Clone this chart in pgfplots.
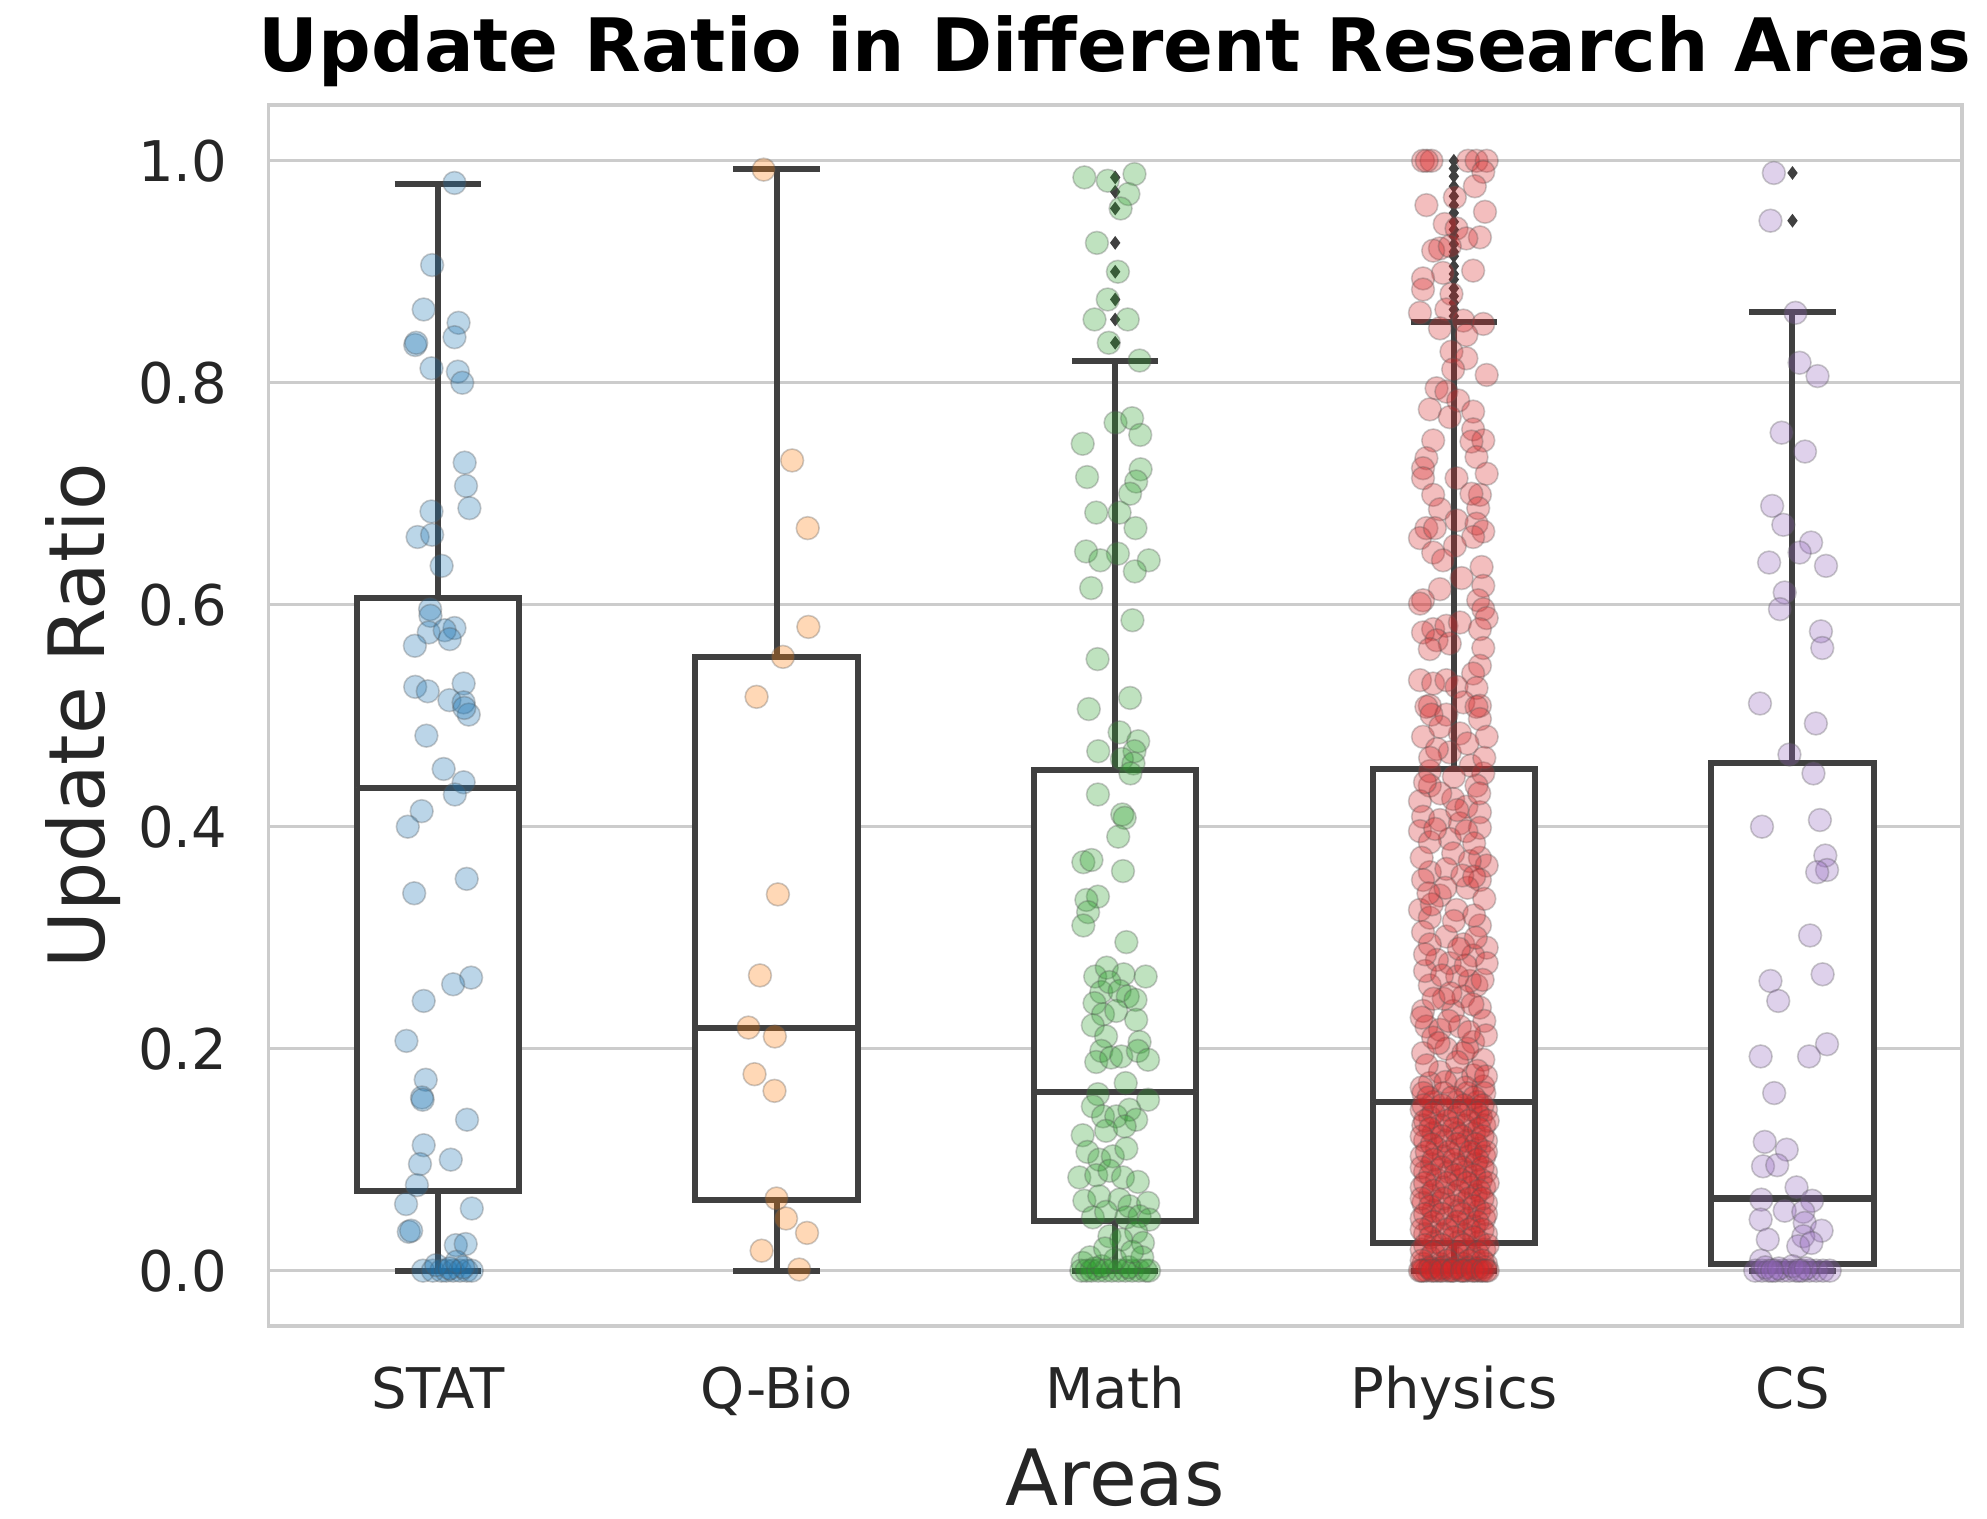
\documentclass[border=0pt]{standalone}
\usepackage{fontspec}
\setmainfont{DejaVu Sans}
\usepackage{pgfplots}
\pgfplotsset{compat=1.18}
\usepgfplotslibrary{statistics}

\definecolor{tabblue}{HTML}{1F77B4}
\definecolor{taborange}{HTML}{FF7F0E}
\definecolor{tabgreen}{HTML}{2CA02C}
\definecolor{tabred}{HTML}{D62728}
\definecolor{tabpurple}{HTML}{9467BD}
\definecolor{boxc}{HTML}{404040}
\definecolor{gridc}{HTML}{CCCCCC}
\definecolor{labelc}{HTML}{262626}
\definecolor{edgec}{HTML}{555555}

\pgfplotsset{
  pts/.style={only marks, mark=*, mark size=2.85pt,
    mark options={fill=#1, draw=edgec, fill opacity=0.3, draw opacity=0.3, line width=0.4pt}},
  bx/.style={boxplot prepared={#1, box extend=0.48, whisker extend=0.255, draw direction=y},
    draw=boxc, line width=1.5pt, fill=white, solid},
  outl/.style={only marks, mark=diamond*, mark size=1.4pt, color=boxc},
}

\begin{document}
\begin{tikzpicture}
\begin{axis}[
  scale only axis, width=423pt, height=305pt,
  xmin=-0.5, xmax=4.5, ymin=-0.05, ymax=1.05,
  xtick={0,1,2,3,4},
  xticklabels={STAT,Q-Bio,Math,Physics,CS},
  ytick={0,0.2,0.4,0.6,0.8,1.0},
  /pgf/number format/assume math mode=true,
  ymajorgrids,
  grid style={draw=gridc, line width=0.8pt},
  axis line style={draw=gridc, line width=0.9pt},
  major tick length=0pt,
  tick label style={font=\fontsize{14}{16}\selectfont, text=labelc},
  xticklabel style={anchor=base, yshift=-20.6pt},
  yticklabel style={anchor=east, inner sep=0pt, xshift=-10.1pt,
    /pgf/number format/fixed, /pgf/number format/fixed zerofill, /pgf/number format/precision=1},
  title={Update Ratio in Different Research Areas},
  title style={font=\fontsize{18.4}{21}\selectfont\bfseries, anchor=base,
    at={([yshift=2.4pt]axis description cs:0.5,1)}},
  xlabel={Areas},
  ylabel={Update Ratio},
  xlabel style={font=\fontsize{19.4}{22}\selectfont, text=labelc, anchor=base,
    at={([yshift=-44.7pt]axis description cs:0.5,0)}},
  ylabel style={font=\fontsize{19.4}{22}\selectfont, text=labelc, anchor=base, rotate=0,
    at={([xshift=-40.9pt]axis description cs:0,0.5)}},
]
% boxes
\addplot[bx={draw position=0, lower whisker=0, lower quartile=0.072, median=0.435, upper quartile=0.606, upper whisker=0.979}] coordinates {};
\addplot[bx={draw position=1, lower whisker=0, lower quartile=0.064, median=0.219, upper quartile=0.553, upper whisker=0.993}] coordinates {};
\addplot[bx={draw position=2, lower whisker=0, lower quartile=0.0445, median=0.161, upper quartile=0.451, upper whisker=0.820}] coordinates {};
\addplot[bx={draw position=3, lower whisker=0, lower quartile=0.025, median=0.152, upper quartile=0.452, upper whisker=0.855}] coordinates {};
\addplot[bx={draw position=4, lower whisker=0, lower quartile=0.006, median=0.065, upper quartile=0.457, upper whisker=0.864}] coordinates {};

% outliers
\addplot[outl] coordinates {(2,0.985) (2,0.972) (2,0.957) (2,0.926) (2,0.900) (2,0.875) (2,0.857) (2,0.836)};
\addplot[outl] coordinates {(3,1.000) (3,0.993) (3,0.986) (3,0.977) (3,0.968) (3,0.960) (3,0.953) (3,0.945)
  (3,0.938) (3,0.932) (3,0.925) (3,0.918) (3,0.914) (3,0.905) (3,0.898) (3,0.893) (3,0.885) (3,0.878)
  (3,0.872) (3,0.866) (3,0.860)};
\addplot[outl] coordinates {(4,0.989) (4,0.946)};

% STAT
\addplot[pts=tabblue] coordinates {
(0.049,0.980) (-0.017,0.906) (-0.042,0.866) (0.061,0.854) (-0.067,0.834) (-0.064,0.836) (0.049,0.841)
(-0.019,0.813) (0.059,0.810) (0.072,0.800) (0.079,0.728) (0.083,0.707) (0.093,0.687) (-0.019,0.684)
(-0.060,0.661) (-0.017,0.663) (0.011,0.635) (-0.023,0.596) (-0.022,0.590) (-0.027,0.575) (0.049,0.579)
(0.020,0.577) (0.035,0.569) (-0.068,0.563) (-0.067,0.526) (-0.030,0.522) (0.076,0.529) (0.034,0.514)
(0.076,0.512) (0.091,0.501) (0.078,0.507) (-0.034,0.482) (0.017,0.452) (0.076,0.440) (0.050,0.429)
(-0.048,0.414) (-0.089,0.400) (0.085,0.353) (-0.070,0.340) (0.098,0.264) (0.045,0.258) (-0.042,0.243)
(-0.093,0.207) (-0.036,0.172) (-0.047,0.156) (-0.045,0.154) (0.086,0.136) (-0.042,0.113) (0.038,0.100)
(-0.053,0.096) (-0.062,0.077) (-0.094,0.060) (0.100,0.056) (-0.086,0.035) (-0.079,0.036) (0.053,0.023)
(0.082,0.024) (-0.044,0) (-0.015,0) (0.010,0) (0.025,0) (0.045,0) (0.065,0) (0.085,0) (0.100,0)
(-0.005,0.005) (0.055,0.008) (0.075,0.003) (0.035,0.002)};

% Q-Bio
\addplot[pts=taborange] coordinates {
(0.962,0.992) (1.046,0.730) (1.092,0.669) (1.094,0.580) (1.019,0.553) (0.941,0.517) (1.004,0.339)
(0.951,0.266) (0.917,0.219) (0.995,0.211) (0.935,0.177) (0.994,0.162) (1.000,0.065) (1.028,0.047)
(1.090,0.034) (0.956,0.018) (1.067,0.001)};

% Math
\addplot[pts=tabgreen] coordinates {
(1.909,0.985) (1.978,0.982) (2.057,0.988) (2.039,0.970) (2.016,0.957) (1.946,0.926) (2.008,0.900)
(1.978,0.875) (1.939,0.857) (2.037,0.857) (1.981,0.836) (2.072,0.820) (2.001,0.764) (2.050,0.768)
(2.074,0.753) (1.904,0.745) (2.075,0.722) (1.917,0.715) (2.062,0.711) (2.044,0.700) (2.013,0.683)
(1.944,0.683) (2.060,0.669) (1.914,0.648) (2.008,0.646) (1.956,0.640) (2.099,0.640) (2.058,0.630)
(1.929,0.615) (2.051,0.586) (1.948,0.551) (2.044,0.516) (1.922,0.506) (2.013,0.485) (2.068,0.477)
(1.950,0.468) (2.057,0.468) (2.020,0.461) (2.054,0.457) (2.045,0.448) (1.949,0.429) (2.021,0.411)
(2.028,0.408) (2.009,0.391) (1.906,0.368) (1.930,0.370) (2.023,0.360) (1.949,0.337) (1.915,0.334)
(1.920,0.323) (1.906,0.311) (2.033,0.296) (1.941,0.265) (1.975,0.273) (2.025,0.267) (2.090,0.265)
(1.959,0.251) (1.983,0.260) (2.013,0.252) (2.037,0.247) (2.060,0.244) (1.939,0.241) (1.964,0.231)
(2.003,0.234) (2.062,0.226) (1.934,0.221) (1.973,0.211) (2.072,0.206) (1.959,0.198) (1.944,0.188)
(1.988,0.192) (2.018,0.193) (2.067,0.198) (2.097,0.190) (2.031,0.169) (1.949,0.159) (2.097,0.154)
(1.934,0.148) (1.964,0.139) (2.003,0.139) (2.042,0.145) (2.062,0.136) (1.904,0.122) (1.973,0.126)
(2.028,0.130) (1.918,0.107) (1.953,0.100) (1.993,0.103) (2.033,0.110) (1.894,0.084) (1.944,0.086)
(1.983,0.090) (2.023,0.084) (2.067,0.080) (1.909,0.063) (1.953,0.067) (2.013,0.064) (2.042,0.058)
(2.097,0.061) (1.934,0.048) (1.973,0.053) (2.033,0.048) (2.072,0.049) (2.101,0.046) (1.983,0.031)
(2.062,0.035) (2.018,0.028) (2.082,0.025) (1.904,0.007) (1.939,0.002) (1.900,0) (1.915,0) (1.930,0)
(1.950,0) (1.970,0) (1.990,0) (2.010,0) (2.030,0) (2.050,0) (2.070,0) (2.090,0) (2.100,0)
(1.960,0.004) (2.040,0.003) (1.925,0.012) (2.000,0.010) (2.080,0.012) (2.050,0.017) (1.970,0.020)};

% Physics
\addplot[pts=tabred] coordinates {
(2.909,1) (2.934,1) (3.042,1) (3.067,1) (3.097,1) (2.920,1) (3.087,0.990) (3.062,0.977) (2.919,0.960)
(3.003,0.967) (3.092,0.954) (2.973,0.943) (3.008,0.939) (3.077,0.931) (3.037,0.930) (2.959,0.921)
(2.939,0.919) (2.988,0.923) (3.057,0.901) (2.968,0.899) (2.909,0.894) (2.909,0.884) (2.993,0.880)
(2.900,0.863) (2.978,0.866) (3.028,0.856) (3.087,0.853) (2.959,0.849) (3.037,0.843) (2.993,0.828)
(3.037,0.822) (2.998,0.812) (3.097,0.807) (2.949,0.795) (2.978,0.792) (3.013,0.784) (2.929,0.776)
(3.057,0.774) (2.988,0.769) (2.939,0.748) (3.057,0.758) (3.087,0.748) (3.052,0.747) (2.919,0.732)
(3.067,0.733) (2.909,0.723) (3.008,0.714) (2.909,0.714) (3.097,0.718) (2.939,0.699) (3.077,0.699)
(3.052,0.700) (2.959,0.686) (3.072,0.687) (2.919,0.669) (2.900,0.660) (2.944,0.669) (3.008,0.676)
(3.067,0.673) (3.087,0.666) (3.057,0.661) (3.003,0.653) (2.939,0.647) (2.968,0.640) (3.082,0.634)
(3.023,0.624) (3.087,0.617) (2.959,0.614) (2.909,0.604) (2.900,0.601) (3.072,0.604) (3.087,0.596)
(3.097,0.588) (2.939,0.578) (2.978,0.581) (3.018,0.584) (3.077,0.578) (2.909,0.575) (2.949,0.568)
(2.988,0.565) (2.929,0.560) (3.087,0.561) (3.077,0.545) (3.057,0.538) (2.900,0.532) (2.939,0.529)
(2.978,0.532) (3.008,0.526) (3.067,0.525) (2.929,0.509) (3.028,0.512) (3.077,0.509) (2.978,0.501)
(2.919,0.508) (3.067,0.508) (2.934,0.501) (3.077,0.497) (2.909,0.481) (3.018,0.484) (3.097,0.481)
(2.988,0.467) (2.929,0.450) (3.087,0.448) (2.929,0.437) (3.067,0.437) (2.900,0.423) (2.998,0.425)
(3.037,0.418) (3.077,0.413) (2.909,0.409) (2.959,0.406) (3.018,0.403) (3.077,0.399) (2.900,0.396)
(2.988,0.389) (3.037,0.396) (2.929,0.386) (2.998,0.376) (3.077,0.372) (3.097,0.365) (3.047,0.369)
(2.929,0.359) (2.978,0.362) (3.077,0.352) (2.909,0.352) (2.959,0.338) (2.900,0.325) (3.008,0.325)
(2.929,0.318) (3.077,0.311) (2.909,0.305) (2.978,0.301) (3.028,0.294) (2.929,0.294) (3.097,0.291)
(3.057,0.284) (2.988,0.277) (3.097,0.277) (2.929,0.257) (3.067,0.257) (3.047,0.261) (3.028,0.247)
(2.909,0.234) (2.998,0.234) (3.077,0.237) (2.919,0.220) (2.959,0.217) (3.018,0.220) (2.939,0.210)
(3.057,0.206) (2.909,0.196) (2.978,0.200) (3.028,0.196) (3.087,0.190) (2.959,0.179) (2.929,0.169)
(3.008,0.173) (3.057,0.176) (3.087,0.166)
(2.950,0.470) (3.050,0.455) (2.960,0.430) (3.040,0.345) (2.950,0.280) (3.010,0.265) (3.090,0.225)
(2.970,0.245) (3.060,0.320) (2.915,0.270)
(2.915,0.440) (3.075,0.430) (3.010,0.415) (2.945,0.398) (3.060,0.385) (2.905,0.372) (3.025,0.356)
(2.975,0.345) (3.090,0.335) (2.935,0.330) (3.000,0.315) (3.065,0.300) (2.915,0.285) (3.035,0.275)
(2.965,0.266) (3.085,0.262) (2.940,0.245) (3.055,0.240) (2.905,0.228) (2.985,0.225) (3.095,0.212)
(2.955,0.205) (3.040,0.200) (2.920,0.185) (3.010,0.188) (3.070,0.180) (2.975,0.170) (2.905,0.165)
(3.035,0.165) (3.095,0.175) (2.960,0.490) (3.040,0.475) (3.090,0.462) (2.930,0.462) (3.000,0.445)
(3.060,0.355) (2.925,0.340) (3.015,0.290) (2.990,0.250) (3.045,0.215)
(2.910,0.160) (2.970,0.160) (3.040,0.160) (3.090,0.160)
(2.940,0.152) (3.010,0.152) (3.070,0.152)
(2.905,0.145) (2.980,0.145) (3.050,0.145) (3.095,0.145)
(2.930,0.138) (3.000,0.138) (3.080,0.138)
(2.910,0.131) (2.960,0.131) (3.030,0.131) (3.090,0.131)
(2.940,0.124) (3.010,0.124) (3.060,0.124)
(2.915,0.117) (2.975,0.117) (3.040,0.117) (3.095,0.117)
(2.950,0.110) (3.020,0.110) (3.075,0.110)
(2.905,0.103) (2.970,0.103) (3.045,0.103) (3.090,0.103)
(2.935,0.096) (3.005,0.096) (3.065,0.096)
(2.915,0.089) (2.985,0.089) (3.035,0.089) (3.095,0.089)
(2.950,0.082) (3.020,0.082) (3.080,0.082)
(2.905,0.075) (2.970,0.075) (3.050,0.075) (3.090,0.075)
(2.930,0.068) (3.000,0.068) (3.065,0.068)
(2.910,0.061) (2.960,0.061) (3.030,0.061) (3.095,0.061)
(2.940,0.054) (3.015,0.054) (3.075,0.054)
(2.905,0.047) (2.980,0.047) (3.045,0.047) (3.090,0.047)
(2.930,0.040) (3.000,0.040) (3.060,0.040)
(2.915,0.033) (2.965,0.033) (3.030,0.033) (3.095,0.033)
(2.945,0.026) (3.015,0.026) (3.075,0.026)
(2.905,0.019) (2.980,0.019) (3.045,0.019) (3.090,0.019)
(2.930,0.012) (3.000,0.012) (3.060,0.012)
(2.910,0.006) (2.960,0.006) (3.030,0.006) (3.095,0.006)
(2.930,0.003) (2.970,0.003) (3.010,0.003) (3.050,0.003) (3.090,0.003)
(2.900,0) (2.920,0) (2.940,0) (2.960,0) (2.980,0) (3.000,0) (3.020,0) (3.040,0) (3.060,0) (3.080,0)
(3.100,0) (2.910,0) (2.950,0) (2.990,0) (3.030,0) (3.070,0)
(2.925,0.156) (2.995,0.156) (3.060,0.156)
(2.910,0.149) (2.965,0.149) (3.030,0.149) (3.085,0.149)
(2.940,0.142) (3.015,0.142) (3.070,0.142)
(2.915,0.135) (2.980,0.135) (3.045,0.135) (3.100,0.135)
(2.930,0.128) (3.000,0.128) (3.075,0.128)
(2.905,0.121) (2.965,0.121) (3.025,0.121) (3.085,0.121)
(2.935,0.114) (3.010,0.114) (3.065,0.114)
(2.920,0.107) (2.985,0.107) (3.050,0.107) (3.095,0.107)
(2.940,0.100) (3.000,0.100) (3.070,0.100)
(2.905,0.093) (2.965,0.093) (3.025,0.093) (3.085,0.093)
(2.930,0.086) (3.005,0.086) (3.060,0.086)
(2.915,0.079) (2.980,0.079) (3.040,0.079) (3.100,0.079)
(2.940,0.072) (3.015,0.072) (3.075,0.072)
(2.905,0.065) (2.970,0.065) (3.045,0.065) (3.085,0.065)
(2.930,0.058) (3.000,0.058) (3.060,0.058)
(2.915,0.051) (2.965,0.051) (3.025,0.051) (3.095,0.051)
(2.940,0.044) (3.010,0.044) (3.070,0.044)
(2.905,0.037) (2.980,0.037) (3.045,0.037) (3.085,0.037)
(2.930,0.030) (3.000,0.030) (3.060,0.030)
(2.915,0.023) (2.965,0.023) (3.030,0.023) (3.100,0.023)
(2.940,0.016) (3.010,0.016) (3.070,0.016)
(2.905,0.009) (2.980,0.009) (3.045,0.009) (3.085,0.009)
(2.930,0.002) (2.960,0.002) (3.000,0.002) (3.040,0.002) (3.070,0.002)
(2.905,0) (2.935,0) (2.965,0) (2.995,0) (3.025,0) (3.055,0) (3.085,0) (3.095,0)};

% CS
\addplot[pts=tabpurple] coordinates {
(3.945,0.989) (3.935,0.946) (4.009,0.863) (4.021,0.818) (4.074,0.806) (3.968,0.755) (4.037,0.738)
(3.940,0.689) (3.973,0.672) (4.055,0.656) (4.021,0.647) (3.931,0.638) (4.099,0.635) (3.977,0.611)
(3.963,0.596) (4.084,0.576) (4.088,0.561) (3.904,0.511) (4.069,0.493) (3.991,0.465) (4.062,0.448)
(3.910,0.400) (4.081,0.406) (4.097,0.374) (4.102,0.361) (4.073,0.359) (4.052,0.302) (3.935,0.261)
(4.089,0.267) (3.958,0.243) (4.102,0.204) (3.906,0.193) (4.049,0.193) (3.946,0.160) (3.918,0.116)
(3.983,0.109) (3.913,0.094) (3.955,0.095) (4.012,0.075) (3.908,0.064) (4.058,0.063) (3.977,0.054)
(4.032,0.053) (3.906,0.046) (4.036,0.043) (4.086,0.036) (3.927,0.028) (4.032,0.031) (4.017,0.022)
(4.056,0.025) (3.907,0.009) (3.890,0) (3.910,0) (3.930,0) (3.950,0) (3.970,0) (3.990,0) (4.010,0)
(4.030,0) (4.050,0) (4.070,0) (4.090,0) (4.110,0) (3.920,0.003) (3.960,0.002) (4.000,0.004)
(4.040,0.002) (3.940,0.0) (4.020,0.0)};
\end{axis}
\pgfresetboundingbox
\path[use as bounding box] ([xshift=-67.1pt,yshift=-48.1pt]current axis.south west)
  rectangle ([xshift=6.3pt,yshift=26.3pt]current axis.north east);
\end{tikzpicture}
\end{document}
